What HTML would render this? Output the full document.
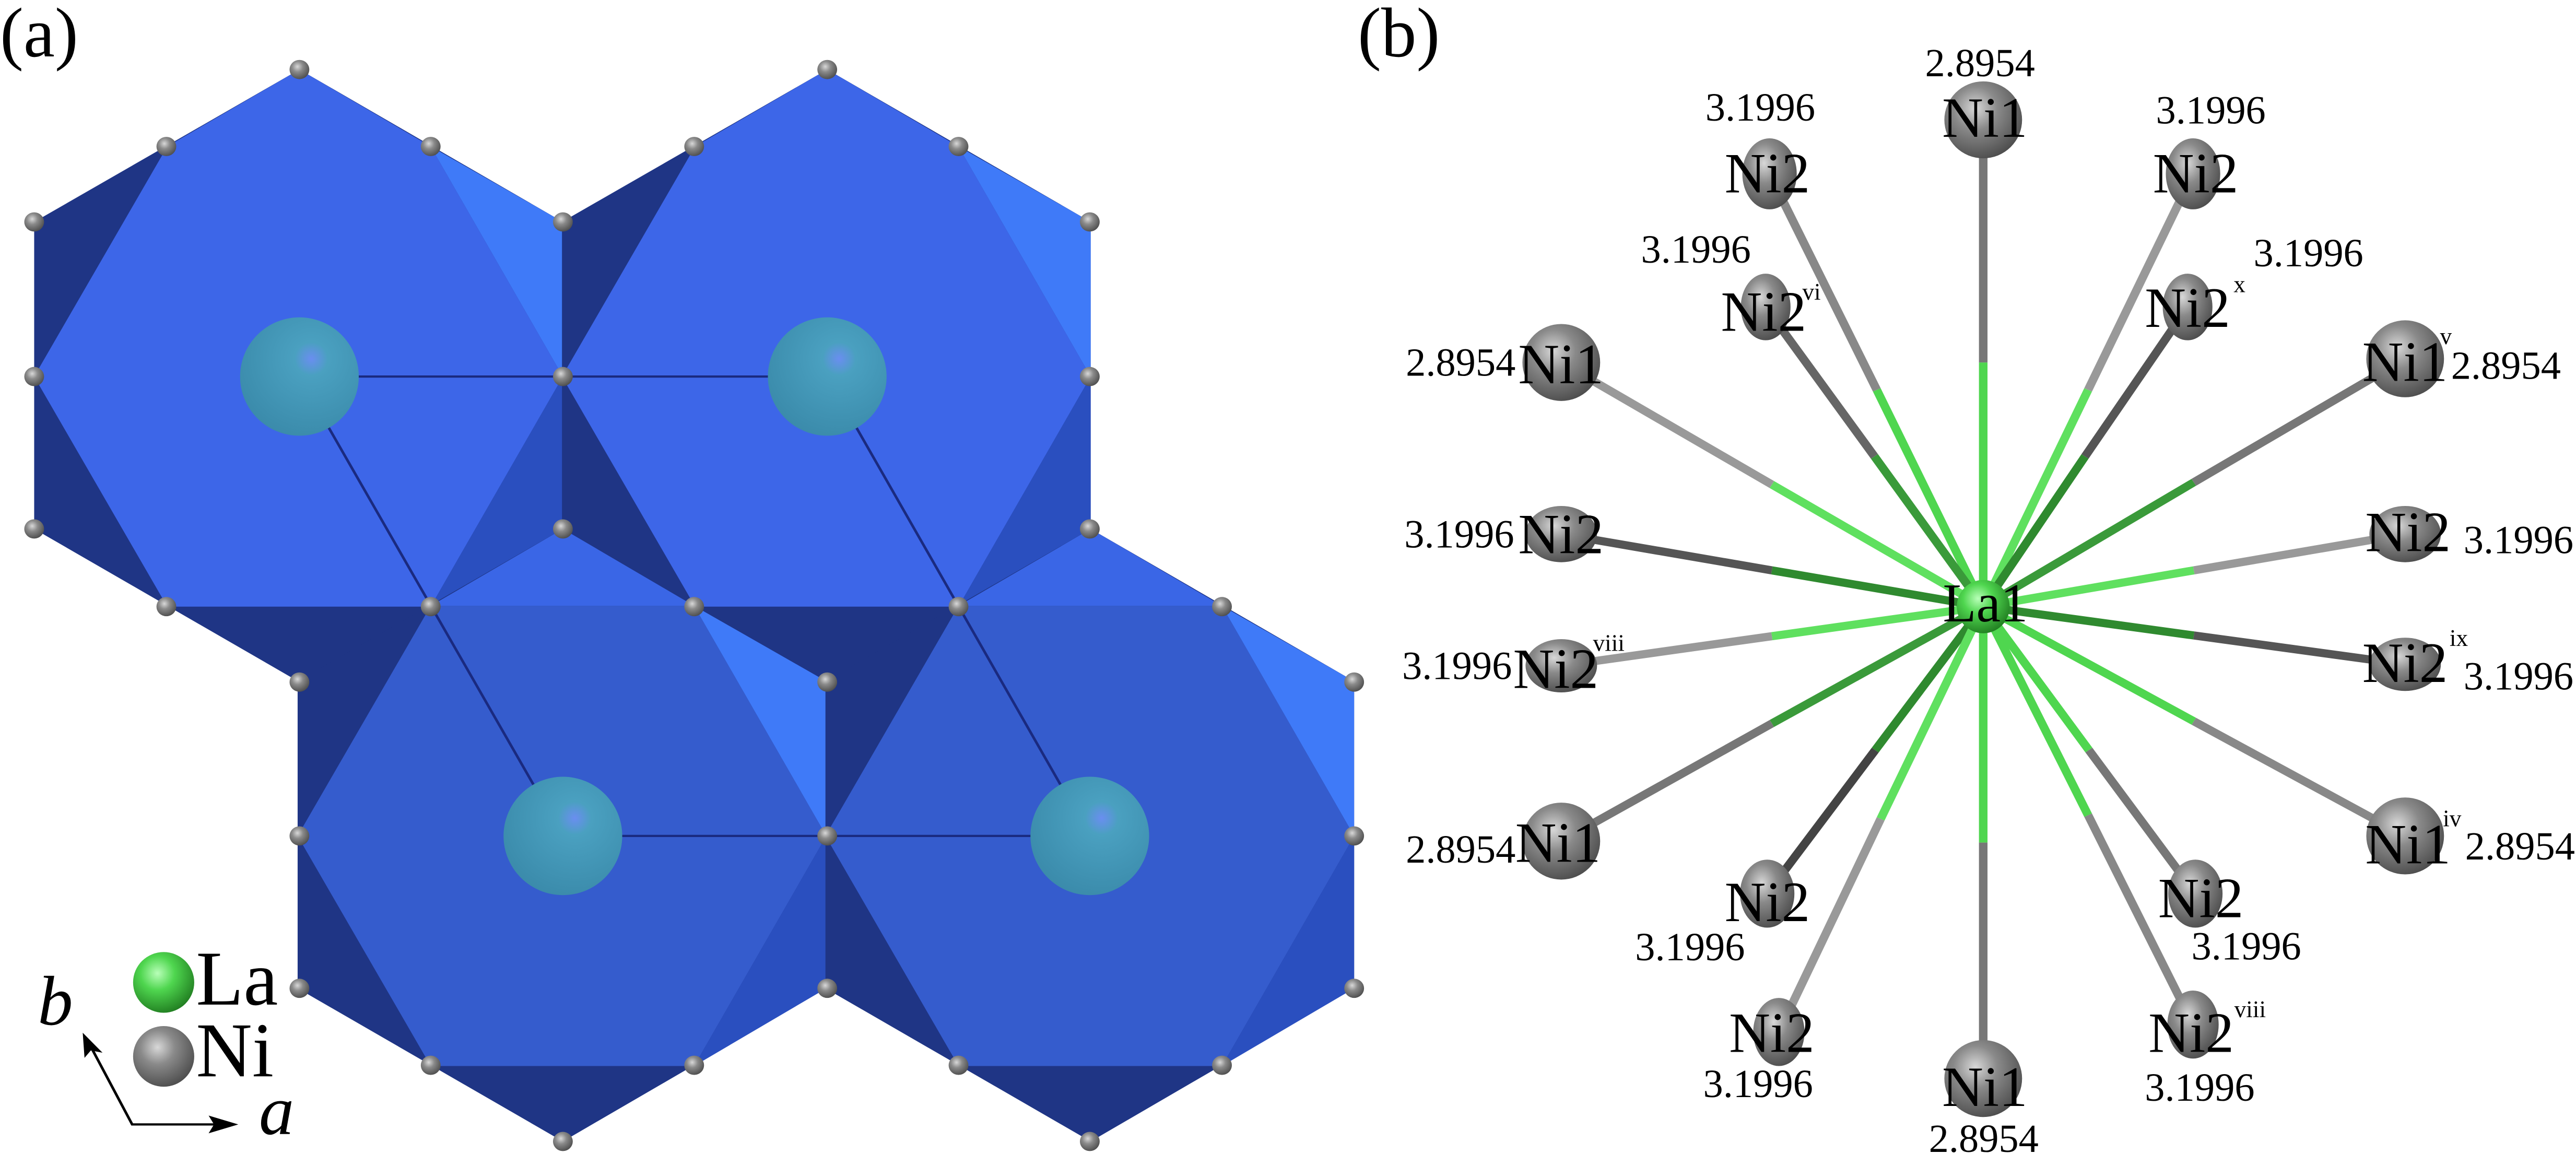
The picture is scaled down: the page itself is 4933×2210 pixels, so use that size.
<!DOCTYPE html>
<html><head><meta charset="utf-8"><style>html,body{margin:0;padding:0;background:#fff}svg{display:block}</style></head>
<body>
<svg width="4933" height="2210" viewBox="0 0 4933 2210" xmlns="http://www.w3.org/2000/svg" font-family="Liberation Serif, serif">
<defs>
<radialGradient id="gni" cx="0.4" cy="0.35" r="0.7"><stop offset="0" stop-color="#d8d8d8"/><stop offset="0.4" stop-color="#8a8a8a"/><stop offset="1" stop-color="#4a4a4a"/></radialGradient>
<radialGradient id="gla" cx="0.4" cy="0.35" r="0.7"><stop offset="0" stop-color="#b8ffb8"/><stop offset="0.4" stop-color="#4fd64f"/><stop offset="1" stop-color="#1f7a1f"/></radialGradient>
<radialGradient id="gcy" cx="0.6" cy="0.35" r="0.7"><stop offset="0" stop-color="#6a8ef0"/><stop offset="0.2" stop-color="#4aa0c0"/><stop offset="1" stop-color="#3a8aaa"/></radialGradient>
</defs>
<text x="0" y="108" font-size="135">(a)</text>
<text x="2600" y="108" font-size="135">(b)</text>

<g transform="scale(1.7219,1.4167)">
<g>
<polygon points="333,94 626,300 626,715 333,922 38,715 38,300" fill="#1f3585"/>
<polygon points="186,198 479,198 626,509 479,820 186,820 38,509" fill="#3d66e8"/>
<polygon points="186,198 333,94 479,198" fill="#3d66e8"/>
<polygon points="479,198 626,300 626,509" fill="#3f7af8"/>
<polygon points="626,509 626,715 479,820" fill="#2a4fbf"/>
</g>
<g transform="translate(587,0)">
<polygon points="333,94 626,300 626,715 333,922 38,715 38,300" fill="#1f3585"/>
<polygon points="186,198 479,198 626,509 479,820 186,820 38,509" fill="#3d66e8"/>
<polygon points="186,198 333,94 479,198" fill="#3d66e8"/>
<polygon points="479,198 626,300 626,509" fill="#3f7af8"/>
<polygon points="626,509 626,715 479,820" fill="#2a4fbf"/>
</g>
<g transform="translate(293,621)">
<polygon points="333,94 626,300 626,715 333,922 38,715 38,300" fill="#1f3585"/>
<polygon points="186,198 479,198 626,509 479,820 186,820 38,509" fill="#355ccd"/>
<polygon points="186,198 333,94 479,198" fill="#3a66e6"/>
<polygon points="479,198 626,300 626,509" fill="#3f7af8"/>
<polygon points="626,509 626,715 479,820" fill="#2a4fbf"/>
</g>
<g transform="translate(880,621)">
<polygon points="333,94 626,300 626,715 333,922 38,715 38,300" fill="#1f3585"/>
<polygon points="186,198 479,198 626,509 479,820 186,820 38,509" fill="#355ccd"/>
<polygon points="186,198 333,94 479,198" fill="#3a66e6"/>
<polygon points="479,198 626,300 626,509" fill="#3f7af8"/>
<polygon points="626,509 626,715 479,820" fill="#2a4fbf"/>
</g>
<g stroke="#1a2a80" stroke-width="3" fill="none">
<line x1="333" y1="509" x2="920" y2="509"/><line x1="626" y1="1130" x2="1212" y2="1130"/>
<line x1="333" y1="509" x2="626" y2="1130"/><line x1="920" y1="509" x2="1212" y2="1130"/>
</g>
<g fill="url(#gcy)">
<ellipse cx="333" cy="509" rx="66" ry="80"/><ellipse cx="920" cy="509" rx="66" ry="80"/>
<ellipse cx="626" cy="1130" rx="66" ry="80"/><ellipse cx="1212" cy="1130" rx="66" ry="80"/>
</g>
<g fill="url(#gni)">
<ellipse cx="333" cy="94" rx="11" ry="13"/><ellipse cx="920" cy="94" rx="11" ry="13"/>
<ellipse cx="185" cy="198" rx="11" ry="13"/><ellipse cx="479" cy="198" rx="11" ry="13"/><ellipse cx="772" cy="198" rx="11" ry="13"/><ellipse cx="1066" cy="198" rx="11" ry="13"/>
<ellipse cx="38" cy="300" rx="11" ry="13"/><ellipse cx="626" cy="300" rx="11" ry="13"/><ellipse cx="1212" cy="300" rx="11" ry="13"/>
<ellipse cx="38" cy="509" rx="11" ry="13"/><ellipse cx="626" cy="509" rx="11" ry="13"/><ellipse cx="1212" cy="509" rx="11" ry="13"/>
<ellipse cx="38" cy="715" rx="11" ry="13"/><ellipse cx="626" cy="715" rx="11" ry="13"/><ellipse cx="1212" cy="715" rx="11" ry="13"/>
<ellipse cx="185" cy="820" rx="11" ry="13"/><ellipse cx="479" cy="820" rx="11" ry="13"/><ellipse cx="772" cy="820" rx="11" ry="13"/><ellipse cx="1066" cy="820" rx="11" ry="13"/><ellipse cx="1359" cy="820" rx="11" ry="13"/>
<ellipse cx="333" cy="922" rx="11" ry="13"/><ellipse cx="920" cy="922" rx="11" ry="13"/><ellipse cx="1506" cy="922" rx="11" ry="13"/>
<ellipse cx="333" cy="1130" rx="11" ry="13"/><ellipse cx="920" cy="1130" rx="11" ry="13"/><ellipse cx="1506" cy="1130" rx="11" ry="13"/>
<ellipse cx="333" cy="1336" rx="11" ry="13"/><ellipse cx="920" cy="1336" rx="11" ry="13"/><ellipse cx="1506" cy="1336" rx="11" ry="13"/>
<ellipse cx="479" cy="1440" rx="11" ry="13"/><ellipse cx="772" cy="1440" rx="11" ry="13"/><ellipse cx="1066" cy="1440" rx="11" ry="13"/><ellipse cx="1359" cy="1440" rx="11" ry="13"/>
<ellipse cx="626" cy="1543" rx="11" ry="13"/><ellipse cx="1212" cy="1543" rx="11" ry="13"/>
</g>
<ellipse cx="182" cy="1328" rx="34" ry="41" fill="url(#gla)"/>
<ellipse cx="182" cy="1428" rx="34" ry="41" fill="url(#gni)"/>
<g transform="translate(218,1358) scale(0.823,1)"><text x="0" y="0" font-size="105">La</text></g>
<g transform="translate(218,1455) scale(0.823,1)"><text x="0" y="0" font-size="105">Ni</text></g>
<g transform="translate(42,1385) scale(0.823,1)"><text x="0" y="0" font-size="95" font-style="italic">b</text></g>
<g transform="translate(288,1533) scale(0.823,1)"><text x="0" y="0" font-size="95" font-style="italic">a</text></g>
<g stroke="#000" stroke-width="3" fill="none"><polyline points="98,1408 147,1520 240,1520"/></g>
<polygon points="265,1520 232,1508 238,1520 232,1532" fill="#000"/>
<polygon points="92,1396 94,1430 101,1420 114,1423" fill="#000"/>
</g>

<g transform="translate(2600,0) scale(1.488,1.4167)">
<g stroke-width="11" stroke-linecap="butt">
<line x1="805" y1="820" x2="805" y2="490" stroke="#4fd64f"/><line x1="805" y1="490" x2="805" y2="162" stroke="#777"/>
<line x1="805" y1="820" x2="668" y2="527" stroke="#4fd64f"/><line x1="668" y1="527" x2="530" y2="235" stroke="#888"/>
<line x1="805" y1="820" x2="940" y2="527" stroke="#5fe05f"/><line x1="940" y1="527" x2="1075" y2="235" stroke="#999"/>
<line x1="805" y1="820" x2="665" y2="617" stroke="#3a9a3a"/><line x1="665" y1="617" x2="525" y2="415" stroke="#666"/>
<line x1="805" y1="820" x2="936" y2="617" stroke="#2f8a2f"/><line x1="936" y1="617" x2="1068" y2="415" stroke="#555"/>
<line x1="805" y1="820" x2="533" y2="655" stroke="#5fe05f"/><line x1="533" y1="655" x2="262" y2="490" stroke="#999"/>
<line x1="805" y1="820" x2="1076" y2="652" stroke="#3a9a3a"/><line x1="1076" y1="652" x2="1348" y2="485" stroke="#777"/>
<line x1="805" y1="820" x2="533" y2="771" stroke="#2f8a2f"/><line x1="533" y1="771" x2="262" y2="722" stroke="#555"/>
<line x1="805" y1="820" x2="1076" y2="771" stroke="#5fe05f"/><line x1="1076" y1="771" x2="1348" y2="722" stroke="#999"/>
<line x1="805" y1="820" x2="533" y2="860" stroke="#5fe05f"/><line x1="533" y1="860" x2="262" y2="900" stroke="#999"/>
<line x1="805" y1="820" x2="1076" y2="859" stroke="#2f8a2f"/><line x1="1076" y1="859" x2="1348" y2="898" stroke="#555"/>
<line x1="805" y1="820" x2="533" y2="978" stroke="#3a9a3a"/><line x1="533" y1="978" x2="262" y2="1137" stroke="#777"/>
<line x1="805" y1="820" x2="1076" y2="975" stroke="#4fd64f"/><line x1="1076" y1="975" x2="1348" y2="1130" stroke="#888"/>
<line x1="805" y1="820" x2="666" y2="1014" stroke="#2f8a2f"/><line x1="666" y1="1014" x2="527" y2="1208" stroke="#444"/>
<line x1="805" y1="820" x2="941" y2="1014" stroke="#4fd64f"/><line x1="941" y1="1014" x2="1078" y2="1208" stroke="#777"/>
<line x1="805" y1="820" x2="673" y2="1107" stroke="#5fe05f"/><line x1="673" y1="1107" x2="542" y2="1395" stroke="#999"/>
<line x1="805" y1="820" x2="940" y2="1102" stroke="#4fd64f"/><line x1="940" y1="1102" x2="1075" y2="1385" stroke="#888"/>
<line x1="805" y1="820" x2="805" y2="1139" stroke="#4fd64f"/><line x1="805" y1="1139" x2="805" y2="1458" stroke="#777"/>
</g>
<ellipse cx="805" cy="820" rx="34" ry="36" fill="url(#gla)"/>
<g fill="url(#gni)">
<ellipse cx="805" cy="162" rx="50" ry="52"/><ellipse cx="262" cy="490" rx="50" ry="52"/><ellipse cx="1348" cy="485" rx="50" ry="52"/>
<ellipse cx="262" cy="1137" rx="50" ry="52"/><ellipse cx="1348" cy="1130" rx="50" ry="52"/><ellipse cx="805" cy="1458" rx="50" ry="52"/>
<ellipse cx="530" cy="235" rx="35" ry="48"/><ellipse cx="1075" cy="235" rx="35" ry="48"/>
<ellipse cx="525" cy="415" rx="32" ry="45"/><ellipse cx="1068" cy="415" rx="32" ry="45"/>
<ellipse cx="262" cy="722" rx="46" ry="38"/><ellipse cx="1348" cy="722" rx="46" ry="38"/>
<ellipse cx="262" cy="900" rx="46" ry="36"/><ellipse cx="1348" cy="898" rx="46" ry="36"/>
<ellipse cx="527" cy="1208" rx="35" ry="46"/><ellipse cx="1078" cy="1208" rx="35" ry="46"/>
<ellipse cx="542" cy="1395" rx="33" ry="46"/><ellipse cx="1075" cy="1385" rx="33" ry="46"/>
</g>
<g font-size="54" transform="scale(0.952,1)">
<g>
<text x="767" y="103">2.8954</text>
<text x="470" y="163">3.1996</text>
<text x="1079" y="167">3.1996</text>
<text x="383" y="355">3.1996</text>
<text x="1211" y="360">3.1996</text>
<text x="65" y="508">2.8954</text>
<text x="1478" y="512">2.8954</text>
<text x="63" y="740">3.1996</text>
<text x="1495" y="748">3.1996</text>
<text x="60" y="918">3.1996</text>
<text x="1495" y="932">3.1996</text>
<text x="65" y="1166">2.8954</text>
<text x="1497" y="1162">2.8954</text>
<text x="375" y="1298">3.1996</text>
<text x="1127" y="1297">3.1996</text>
<text x="467" y="1483">3.1996</text>
<text x="1064" y="1488">3.1996</text>
<text x="772" y="1557">2.8954</text>
</g>
<g font-size="77">
<text x="790" y="185">Ni1</text>
<text x="496" y="260">Ni2</text>
<text x="1075" y="260">Ni2</text>
<text x="491" y="447">Ni2</text>
<text x="1064" y="442">Ni2</text>
<text x="217" y="518">Ni1</text>
<text x="1358" y="515">Ni1</text>
<text x="217" y="748">Ni2</text>
<text x="1362" y="745">Ni2</text>
<text x="210" y="930">Ni2</text>
<text x="1358" y="922">Ni2</text>
<text x="213" y="1165">Ni1</text>
<text x="1362" y="1167">Ni1</text>
<text x="496" y="1245">Ni2</text>
<text x="1082" y="1240">Ni2</text>
<text x="502" y="1422">Ni2</text>
<text x="1069" y="1422">Ni2</text>
<text x="790" y="1495">Ni1</text>
<text x="791" y="840" font-size="74">La1</text>
</g>
<g font-size="32">
<text x="601" y="405">vi</text>
<text x="1184" y="395">x</text>
<text x="1463" y="465">v</text>
<text x="318" y="880">viii</text>
<text x="1476" y="873">ix</text>
<text x="1467" y="1117">iv</text>
<text x="1185" y="1375">viii</text>
</g>
</g>
</g>
</svg>
</body></html>
